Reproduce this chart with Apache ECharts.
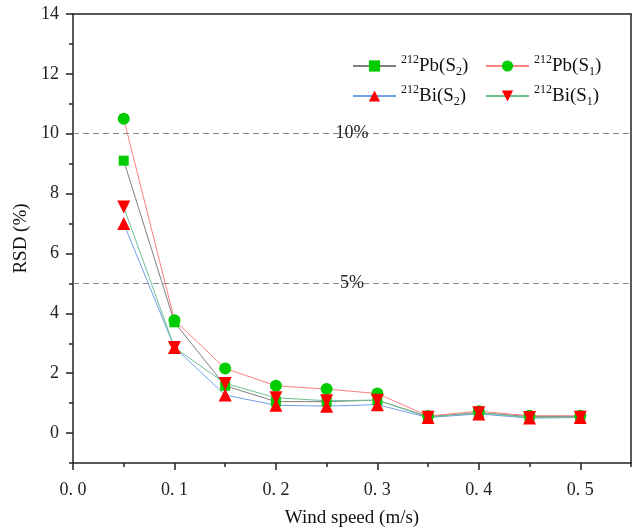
<!DOCTYPE html>
<html>
<head>
<meta charset="utf-8">
<script src="https://cdn.jsdelivr.net/npm/echarts@6/dist/echarts.min.js"></script>
<style>html,body{margin:0;padding:0;background:#fff;}#c{width:635px;height:528px;}</style>
</head>
<body>
<div id="c"></div>
<script>
// ---- data ----
const windSpeed = [0.05, 0.10, 0.15, 0.20, 0.25, 0.30, 0.35, 0.40, 0.45, 0.50];
const pbS2 = [9.1, 3.7, 1.58, 1.05, 1.05, 1.1, 0.55, 0.68, 0.55, 0.55];
const pbS1 = [10.5, 3.77, 2.16, 1.58, 1.47, 1.32, 0.57, 0.73, 0.58, 0.58];
const biS2 = [7.0, 2.86, 1.27, 0.93, 0.9, 0.95, 0.52, 0.64, 0.5, 0.52];
const biS1 = [7.55, 2.86, 1.66, 1.18, 1.08, 1.1, 0.53, 0.68, 0.52, 0.53];
const xLabelValues = [0, 0.1, 0.2, 0.3, 0.4, 0.5];
const xMinorValues = [0.05, 0.15, 0.25, 0.35, 0.45, 0.55];
const yLabelValues = [0, 2, 4, 6, 8, 10, 12, 14];
const yMinorValues = [-1, 1, 3, 5, 7, 9, 11, 13];
const refLines = [{ value: 10, text: '10%' }, { value: 5, text: '5%' }];
const legendNames = {
  Pb2: '{sup|212}{b|Pb(S}{sub|2}{b|)}',
  Pb1: '{sup|212}{b|Pb(S}{sub|1}{b|)}',
  Bi2: '{sup|212}{b|Bi(S}{sub|2}{b|)}',
  Bi1: '{sup|212}{b|Bi(S}{sub|1}{b|)}'
};

const FONT = "'Liberation Serif', 'Times New Roman', serif";
const AX = '#222';
const pairs = arr => arr.map((v, i) => [windSpeed[i], v]);

const chart = echarts.init(document.getElementById('c'), null, { renderer: 'canvas' });

const grid = { left: 73, top: 14, right: 4, bottom: 65, containLabel: false, outerBoundsMode: 'none' };
const rich = {
  b: { fontFamily: FONT, fontSize: 19, color: '#111', lineHeight: 24 },
  sup: { fontFamily: FONT, fontSize: 12, color: '#111', lineHeight: 12, verticalAlign: 'top' },
  sub: { fontFamily: FONT, fontSize: 12, color: '#111', lineHeight: 12, verticalAlign: 'bottom' }
};
const legendCommon = {
  orient: 'vertical', itemWidth: 43, itemHeight: 14, itemGap: 6, padding: 0,
  formatter: n => legendNames[n],
  textStyle: { rich: rich, padding: [0, 0, 0, 0] },
  selectedMode: false
};

function mkSeries(name, data, lineColor, symbol, size, markerColor, rotate) {
  return {
    name: name, type: 'line', data: pairs(data), xAxisIndex: 0, yAxisIndex: 0,
    symbol: symbol, symbolSize: size, symbolRotate: rotate || 0,
    lineStyle: { color: lineColor, width: 1 },
    itemStyle: { color: markerColor },
    showAllSymbol: true, animation: false
  };
}

const series = [
  mkSeries('Pb2', pbS2, '#7f7f7f', 'rect', 10, '#00cc00'),
  mkSeries('Pb1', pbS1, '#ff8080', 'circle', 12, '#00cc00'),
  mkSeries('Bi2', biS2, '#6f9fe8', 'triangle', 13, '#ff0000'),
  mkSeries('Bi1', biS1, '#70c090', 'triangle', 13, '#ff0000', 180)
];
series[0].markLine = {
  silent: true, symbol: 'none', animation: false,
  lineStyle: { color: '#888', type: [6, 4], width: 1.2 },
  label: {
    position: 'middle', distance: 0, offset: [0, 9],
    fontFamily: FONT, fontSize: 18, color: '#222',
    formatter: p => p.name
  },
  data: refLines.map(r => ({ yAxis: r.value, name: r.text }))
};

const option = {
  backgroundColor: '#fff',
  animation: false,
  grid: grid,
  legend: [
    Object.assign({ left: 352, top: 54, data: ['Pb2', 'Bi2'] }, legendCommon),
    Object.assign({ left: 485, top: 54, data: ['Pb1', 'Bi1'] }, legendCommon)
  ],
  xAxis: [
    {
      type: 'value', position: 'bottom', min: 0, max: 0.55,
      name: 'Wind speed (m/s)', nameLocation: 'middle', nameGap: 46,
      nameTextStyle: { fontFamily: FONT, fontSize: 19, color: '#111' },
      axisLine: { show: true, onZero: false, lineStyle: { color: AX, width: 1.5 } },
      axisTick: { show: true, inside: false, length: 7, customValues: xLabelValues, lineStyle: { color: AX, width: 1.5 } },
      axisLabel: { show: true, customValues: xLabelValues, margin: 18, fontFamily: FONT, fontSize: 18, color: '#222',
        formatter: v => v.toFixed(1).replace('.', '. ') },
      splitLine: { show: false }
    },
    {
      type: 'value', position: 'bottom', min: 0, max: 0.55,
      axisLine: { show: false, onZero: false },
      axisTick: { show: true, inside: false, length: 4, customValues: xMinorValues, lineStyle: { color: AX, width: 1.5 } },
      axisLabel: { show: false }, splitLine: { show: false }
    },
    {
      type: 'value', position: 'top', min: 0, max: 0.55,
      axisLine: { show: true, onZero: false, lineStyle: { color: AX, width: 1.5 } },
      axisTick: { show: false }, axisLabel: { show: false }, splitLine: { show: false }
    }
  ],
  yAxis: [
    {
      type: 'value', position: 'left', min: -1, max: 14,
      name: 'RSD (%)', nameLocation: 'middle', nameGap: 37, nameRotate: 90,
      nameTextStyle: { fontFamily: FONT, fontSize: 19, color: '#111' },
      axisLine: { show: true, onZero: false, lineStyle: { color: AX, width: 1.5 } },
      axisTick: { show: true, inside: false, length: 7, customValues: yLabelValues, lineStyle: { color: AX, width: 1.5 } },
      axisLabel: { show: true, customValues: yLabelValues, margin: 14, fontFamily: FONT, fontSize: 18, color: '#222' },
      splitLine: { show: false }
    },
    {
      type: 'value', position: 'left', min: -1, max: 14,
      axisLine: { show: false, onZero: false },
      axisTick: { show: true, inside: false, length: 4, customValues: yMinorValues, lineStyle: { color: AX, width: 1.5 } },
      axisLabel: { show: false }, splitLine: { show: false }
    },
    {
      type: 'value', position: 'right', min: -1, max: 14,
      axisLine: { show: true, onZero: false, lineStyle: { color: AX, width: 1.5 } },
      axisTick: { show: false }, axisLabel: { show: false }, splitLine: { show: false }
    }
  ],
  series: series
};
chart.setOption(option);
</script>
</body>
</html>
